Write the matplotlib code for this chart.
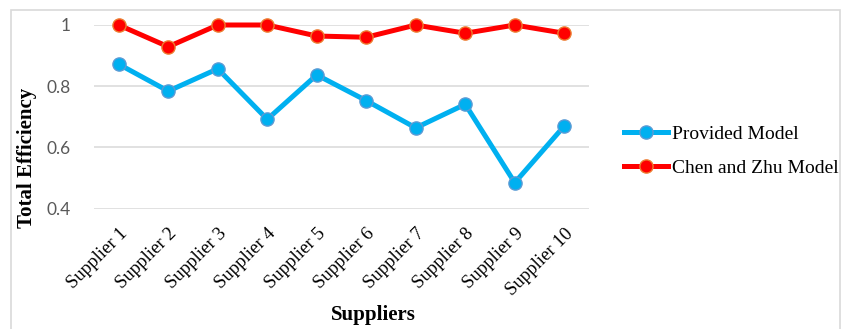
import numpy as np
import matplotlib.pyplot as plt
from matplotlib.patches import Rectangle

suppliers = [f"Supplier {i}" for i in range(1, 11)]
provided = [0.872, 0.784, 0.857, 0.692, 0.837, 0.753, 0.664, 0.741, 0.485, 0.670]
chen_zhu = [1.0, 0.929, 1.0, 1.0, 0.964, 0.960, 1.0, 0.973, 1.0, 0.973]
y_ticks = [0.4, 0.6, 0.8, 1.0]
y_tick_labels = ["0.4", "0.6", "0.8", "1"]

W, H = 846, 329
fig = plt.figure(figsize=(W / 100, H / 100), dpi=100)
ax = fig.add_axes([94 / W, 1 - 208.7 / H, (589 - 94) / W, (208.7 - 25) / H])

x = np.arange(len(suppliers))
ax.plot(x, provided, '-o', color='#00B0F0', lw=3.6, ms=9.5,
        mfc='#00B0F0', mec='#5B9BD5', mew=1.0, label='Provided Model',
        clip_on=False, zorder=3)
ax.plot(x, chen_zhu, '-o', color='#FF0000', lw=3.6, ms=9.5,
        mfc='#FF0000', mec='#ED7D31', mew=1.0, label='Chen and Zhu Model',
        clip_on=False, zorder=4)

ax.set_xlim(-0.5, len(suppliers) - 0.5)
ax.set_ylim(0.4, 1.0)
ax.set_yticks(y_ticks)
ax.set_yticklabels(y_tick_labels, family='Lato', fontsize=12.5, color='#595959')
ax.set_xticks(x)
ax.set_xticklabels(suppliers, family='Liberation Serif', fontsize=13.5,
                   rotation=45, ha='right', va='top', rotation_mode='anchor')
ax.tick_params(axis='both', length=0)
ax.tick_params(axis='y', pad=17)
ax.tick_params(axis='x', pad=12)
ax.grid(axis='y', color='#D9D9D9', lw=1.1)
ax.set_axisbelow(True)
for s in ax.spines.values():
    s.set_visible(False)

fig.text(373 / W, 1 - 315 / H, 'Suppliers', family='Liberation Serif',
         fontweight='bold', fontsize=15, ha='center', va='center')
fig.text(27 / W, 1 - 158 / H, 'Total Efficiency', family='Liberation Serif',
         fontweight='bold', fontsize=15, ha='center', va='center', rotation=90)

leg = fig.legend(loc='center left', bbox_to_anchor=(624 / W, 1 - 151 / H),
                 bbox_transform=fig.transFigure, frameon=False, borderpad=0,
                 borderaxespad=0, handlelength=2.26, handletextpad=0.2,
                 labelspacing=0.82, prop={'family': 'Liberation Serif', 'size': 14})

fig.patches.append(Rectangle((11 / W, -0.05), (840 - 11) / W, 1.05 - 10 / H,
                             transform=fig.transFigure, fill=False,
                             edgecolor='#D9D9D9', lw=1.2))

plt.savefig("out.png", dpi=100)
